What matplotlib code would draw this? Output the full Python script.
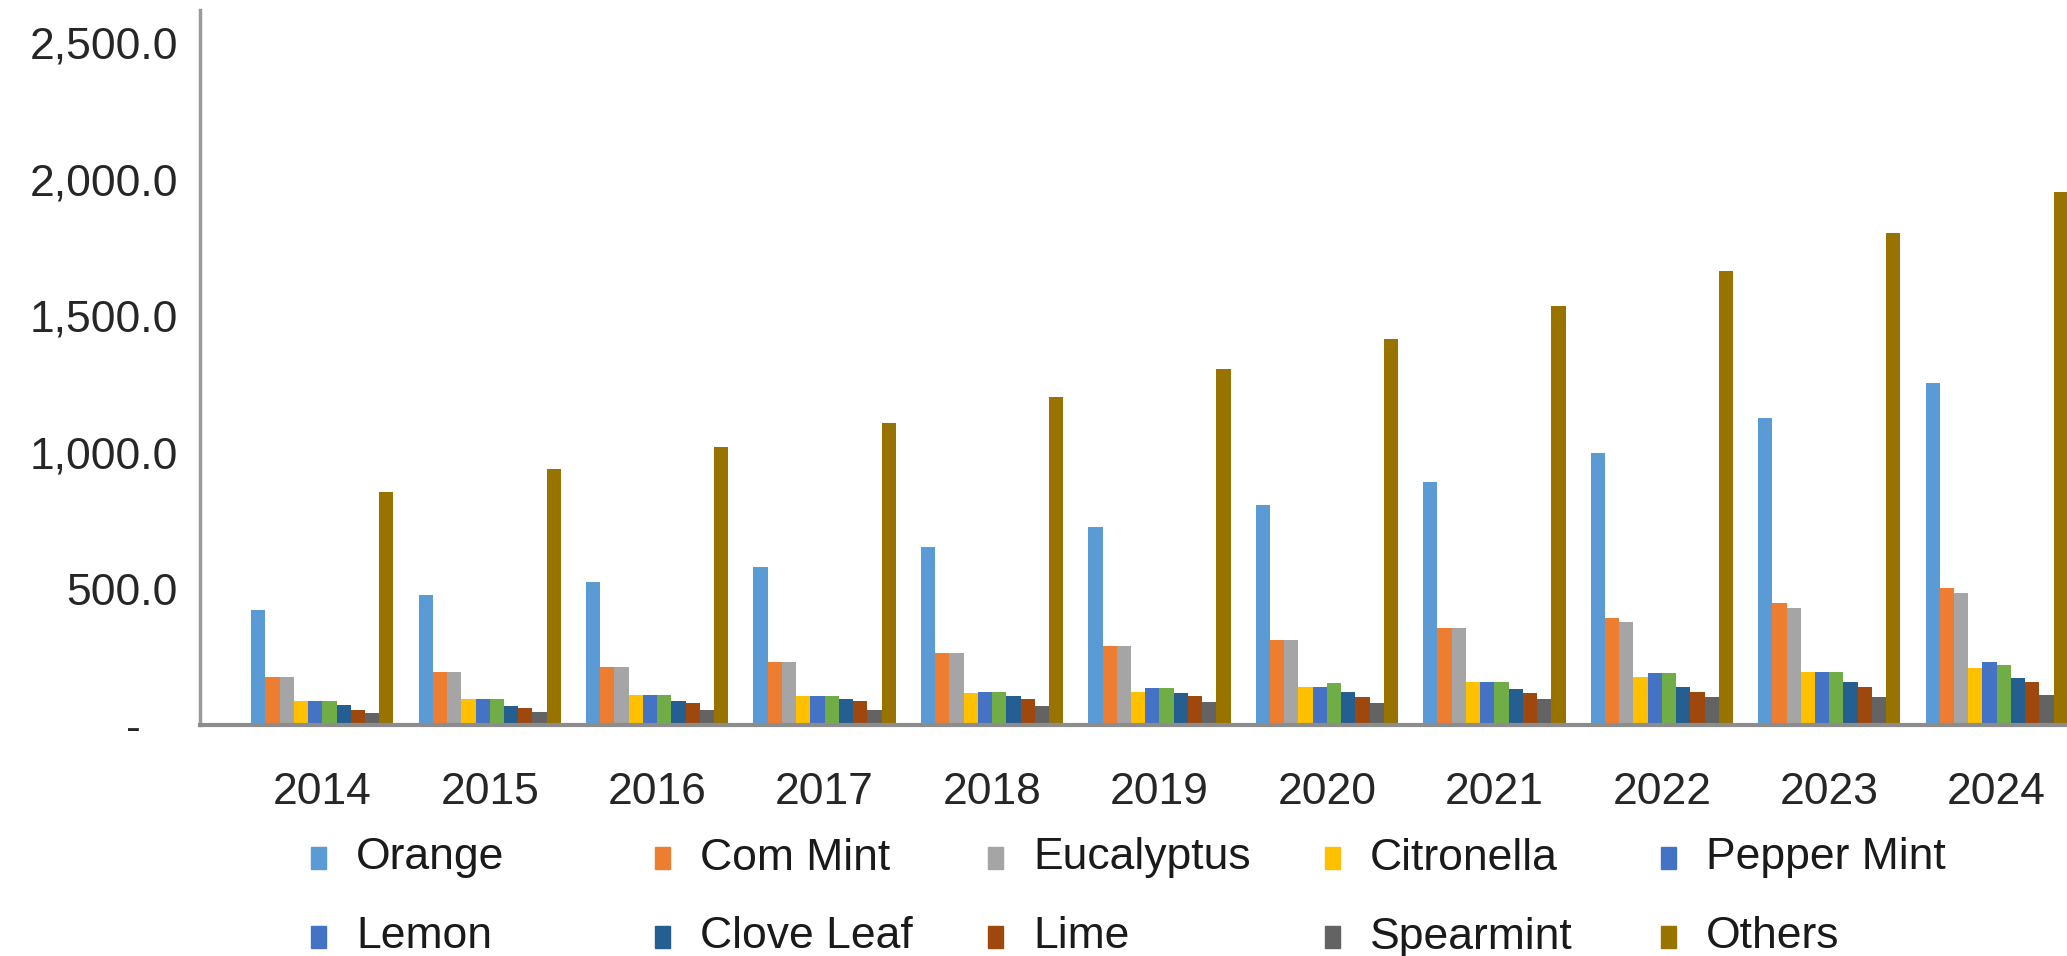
import matplotlib.pyplot as plt
from matplotlib.patches import Rectangle
from matplotlib.ticker import FuncFormatter
import numpy as np

plt.rcParams['font.family'] = ['Liberation Sans', 'DejaVu Sans']

# Data
years = ['2014', '2015', '2016', '2017', '2018', '2019', '2020', '2021', '2022', '2023', '2024']
series_names = ['Orange', 'Corn Mint', 'Eucalyptus', 'Citronella', 'Pepper Mint',
                'Lemon', 'Clove Leaf', 'Lime', 'Spearmint', 'Others']
legend_labels = ['Orange', 'Com Mint', 'Eucalyptus', 'Citronella', 'Pepper Mint',
                 'Lemon', 'Clove Leaf', 'Lime', 'Spearmint', 'Others']

orange = [422, 477, 525, 580, 654, 725, 807, 892, 996, 1125, 1253]
corn_mint = [177, 195, 214, 232, 265, 290, 313, 355, 392, 447, 501]
eucalyptus = [177, 195, 214, 232, 265, 290, 313, 355, 379, 429, 483]
citronella = [88, 95, 110, 108, 119, 122, 140, 159, 177, 195, 209]
pepper_mint = [88, 95, 110, 108, 122, 134, 140, 159, 190, 195, 232]
lemon = [88, 95, 110, 108, 122, 134, 153, 159, 190, 195, 220]
clove_leaf = [73, 71, 88, 97, 108, 119, 122, 132, 140, 159, 172]
lime = [55, 64, 79, 88, 95, 108, 104, 117, 122, 141, 159]
spearmint = [44, 48, 55, 55, 71, 86, 80, 95, 104, 104, 110]
others = [855, 938, 1020, 1107, 1203, 1305, 1416, 1537, 1662, 1804, 1955]

values = [orange, corn_mint, eucalyptus, citronella, pepper_mint,
          lemon, clove_leaf, lime, spearmint, others]
bar_colors = ['#5B9BD5', '#ED7D31', '#A5A5A5', '#FFC000', '#4472C4',
              '#70AD47', '#255E91', '#9E480E', '#636363', '#997300']
# the legend swatch for Lemon is blue in the original
legend_colors = ['#5B9BD5', '#ED7D31', '#A5A5A5', '#FFC000', '#4472C4',
                 '#4472C4', '#255E91', '#9E480E', '#636363', '#997300']

fig = plt.figure(figsize=(20.67, 9.56), dpi=100)
ax = fig.add_axes([0.0968, 0.2416, 0.9032, 0.7479])

x = np.arange(len(years))
width = 0.085
for i, vals in enumerate(values):
    offset = (i - 4.5) * width
    ax.bar(x + offset, vals, width=width, color=bar_colors[i], label=series_names[i])

ax.set_xlim(-0.73, 10.42)
ax.set_ylim(0, 2620)
ax.set_yticks([0, 500, 1000, 1500, 2000, 2500])
ax.yaxis.set_major_formatter(FuncFormatter(lambda v, p: '-   ' if v == 0 else f'{v:,.1f}'))
ax.set_xticks(x)
ax.set_xticklabels(years)

ax.tick_params(axis='y', length=0, pad=16, labelsize=32, labelcolor='#262626')
ax.tick_params(axis='x', length=0, pad=34, labelsize=32, labelcolor='#262626')

for side in ['top', 'right']:
    ax.spines[side].set_visible(False)
ax.spines['left'].set_color('#9a9a9a')
ax.spines['left'].set_linewidth(2.5)
ax.spines['bottom'].set_color('#8c8c8c')
ax.spines['bottom'].set_linewidth(3)

# Legend drawn by hand: 5 columns, 2 rows
col_x = [311, 655, 988, 1325, 1661]
row_y = [858, 937]
W, H = 2067, 956
for i, name in enumerate(legend_labels):
    px = col_x[i % 5]
    py = row_y[i // 5]
    fig.add_artist(Rectangle((px / W, (H - py - 11) / H), 15 / W, 22 / H,
                             transform=fig.transFigure, color=legend_colors[i]))
    fig.text((px + 45) / W, (H - py) / H, name, fontsize=32, color='#1a1a1a',
             va='center', ha='left')

fig.savefig('out.png', dpi=100)
